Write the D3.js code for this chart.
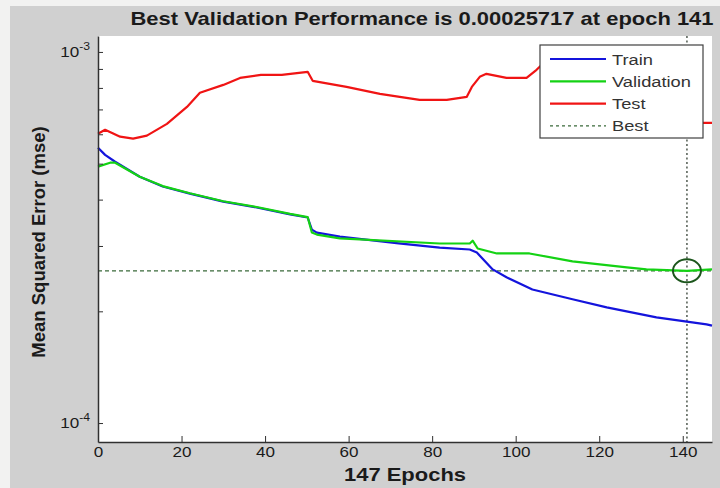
<!DOCTYPE html>
<html>
<head>
<meta charset="utf-8">
<script src="https://cdn.jsdelivr.net/npm/d3@7"></script>
<style>
  body { margin: 0; background: #f2f2f1; }
  svg { display: block; font-family: 'Liberation Sans', Arial, sans-serif; }
</style>
</head>
<body>
<div id="chart"></div>
<script>
'use strict';

// mse values in units of 1e-4
const trainEpoch = [0, 1.7, 4.1, 10, 15.5, 22, 30, 38, 46, 50.2, 51.2, 52.4, 57.9, 72, 81.8, 89, 90.7, 94.5, 97.8, 104, 113.6, 121.8, 133.7, 145.7, 147];
const trainMse   = [5.52, 5.28, 5.06, 4.61, 4.34, 4.15, 3.95, 3.81, 3.65, 3.58, 3.32, 3.26, 3.18, 3.05, 2.97, 2.935, 2.88, 2.594, 2.47, 2.29, 2.155, 2.05, 1.927, 1.845, 1.83];

const valEpoch = [0, 2.9, 4.1, 10, 15.5, 22, 30, 38, 46, 50.2, 51.2, 52.4, 57.9, 81.8, 89, 89.7, 90.9, 95.5, 103.3, 113.6, 126.6, 131.3, 141, 147];
const valMse   = [4.91, 5.03, 5.03, 4.61, 4.35, 4.16, 3.96, 3.82, 3.66, 3.59, 3.26, 3.22, 3.144, 3.047, 3.047, 3.10, 2.954, 2.864, 2.864, 2.726, 2.627, 2.594, 2.5717, 2.594];

const testEpoch = [0, 1.7, 5.3, 8.4, 11.7, 16.5, 21.3, 24.4, 30, 34, 39, 44, 50.2, 51.4, 59.5, 67.5, 77, 83.5, 88.3, 89.5, 91.4, 93, 97.8, 102.6, 105, 107, 115, 125, 135, 143, 144.7, 147];
const testMse   = [6.02, 6.17, 5.91, 5.84, 5.95, 6.40, 7.11, 7.76, 8.15, 8.51, 8.67, 8.67, 8.84, 8.36, 8.05, 7.71, 7.43, 7.43, 7.57, 8.05, 8.57, 8.73, 8.51, 8.51, 8.95, 9.4, 9.6, 9.3, 8.0, 6.8, 6.44, 6.44];

const bestEpoch = 141;
const bestMse = 2.5717e-4;
const xTicks = [0, 20, 40, 60, 80, 100, 120, 140];
const yMajor = [1e-4, 1e-3];
const yMinor = [2e-4, 3e-4, 4e-4, 5e-4, 6e-4, 7e-4, 8e-4, 9e-4];

const legendItems = [
  {name: 'Train', color: '#1414dc', dash: null},
  {name: 'Validation', color: '#14d214', dash: null},
  {name: 'Test', color: '#f01414', dash: null},
  {name: 'Best', color: '#3a6a3a', dash: '3,3'},
];

const W = 720, H = 488;
const stretch = 1.22; // the picture is a bit wider than tall
const plot = {left: 98, right: 712, top: 36, bottom: 442};

const svg = d3.select('#chart').append('svg')
  .attr('width', W).attr('height', H);

svg.append('rect').attr('width', W).attr('height', H).attr('fill', '#f2f2f1');
svg.append('rect').attr('x', 10).attr('y', 6)
  .attr('width', W - 10).attr('height', H - 6).attr('fill', '#d0d0d0');
svg.append('rect').attr('x', plot.left).attr('y', plot.top)
  .attr('width', plot.right - plot.left).attr('height', plot.bottom - plot.top)
  .attr('fill', 'white');

const x = d3.scaleLinear().domain([0, 147]).range([plot.left, plot.right]);
const y = d3.scaleLog().domain([8.89e-5, 1.104e-3]).range([plot.bottom, plot.top]);

function wideText(parent, tx, ty, str, size, weight, anchor) {
  return parent.append('text')
    .attr('transform', 'translate(' + tx + ',' + ty + ') scale(' + stretch + ',1)')
    .attr('font-size', size).attr('font-weight', weight || 'normal')
    .attr('text-anchor', anchor || 'middle')
    .attr('fill', '#1a1a1a')
    .text(str);
}

// best lines
svg.append('line')
  .attr('x1', plot.left).attr('x2', plot.right)
  .attr('y1', y(bestMse)).attr('y2', y(bestMse))
  .attr('stroke', '#3a6a3a').attr('stroke-width', 1.2)
  .attr('stroke-dasharray', '4,3');
svg.append('line')
  .attr('x1', x(bestEpoch)).attr('x2', x(bestEpoch))
  .attr('y1', plot.top).attr('y2', plot.bottom)
  .attr('stroke', '#505a50').attr('stroke-width', 1.5)
  .attr('stroke-dasharray', '2,2.5');

// series
const line = d3.line().x(d => x(d[0])).y(d => y(d[1] * 1e-4));
const series = [
  {ep: testEpoch, v: testMse, color: legendItems[2].color},
  {ep: trainEpoch, v: trainMse, color: legendItems[0].color},
  {ep: valEpoch, v: valMse, color: legendItems[1].color},
];
for (let s of series) {
  svg.append('path')
    .datum(s.ep.map((e, i) => [e, s.v[i]]))
    .attr('d', line)
    .attr('fill', 'none')
    .attr('stroke', s.color)
    .attr('stroke-width', 2.2)
    .attr('stroke-linejoin', 'round');
}

// best marker
svg.append('ellipse')
  .attr('cx', x(bestEpoch)).attr('cy', y(bestMse))
  .attr('rx', 14).attr('ry', 11.5)
  .attr('fill', 'none').attr('stroke', '#1c561c').attr('stroke-width', 2);

// x axis, ticks point inwards
const xAxis = svg.append('g')
  .attr('transform', 'translate(0,' + plot.bottom + ')')
  .call(d3.axisBottom(x).tickValues(xTicks).tickSizeInner(-6).tickSizeOuter(0).tickPadding(5));
xAxis.select('.domain').attr('stroke', '#303030').attr('stroke-width', 1.5);
xAxis.selectAll('.tick line').attr('stroke', '#303030');
xAxis.selectAll('.tick text')
  .attr('font-size', 14).attr('font-family', null).attr('fill', '#1a1a1a')
  .attr('transform', 'scale(' + stretch + ',1)');

// y axis with minor ticks
const yAxis = svg.append('g')
  .attr('transform', 'translate(' + plot.left + ',0)')
  .call(d3.axisLeft(y).tickValues(yMajor.concat(yMinor)).tickSizeInner(-5)
    .tickSizeOuter(0).tickFormat(() => ''));
yAxis.select('.domain').attr('stroke', '#303030').attr('stroke-width', 1.5);
yAxis.selectAll('.tick line').attr('stroke', '#303030');

for (let m of yMajor) {
  const t = svg.append('text')
    .attr('transform', 'translate(' + (plot.left - 8) + ',' + (y(m) + 5) + ') scale(' + stretch + ',1)')
    .attr('text-anchor', 'end').attr('fill', '#1a1a1a').attr('font-size', 14);
  t.append('tspan').text('10');
  t.append('tspan').attr('font-size', 10).attr('dy', -7).text(String(Math.round(Math.log10(m))));
}

// titles
wideText(svg, 422, 25,
  'Best Validation Performance is 0.00025717 at epoch 141', 18, 'bold');
wideText(svg, (plot.left + plot.right) / 2, 481, '147 Epochs', 18, 'bold');
svg.append('text')
  .attr('transform', 'translate(45,242) rotate(-90)')
  .attr('text-anchor', 'middle').attr('font-size', 18.5).attr('font-weight', 'bold')
  .attr('fill', '#1a1a1a')
  .text('Mean Squared Error (mse)');

// legend
const lg = svg.append('g');
lg.append('rect').attr('x', 540).attr('y', 45).attr('width', 163).attr('height', 93)
  .attr('fill', 'white').attr('stroke', '#404040').attr('stroke-width', 1.2);
legendItems.forEach((d, i) => {
  const ly = 59 + i * 22.3;
  lg.append('line').attr('x1', 550).attr('x2', 606).attr('y1', ly).attr('y2', ly)
    .attr('stroke', d.color).attr('stroke-width', d.dash ? 1.2 : 2.2)
    .attr('stroke-dasharray', d.dash);
  wideText(lg, 612, ly + 5.5, d.name, 15, 'normal', 'start').attr('fill', '#333');
});
</script>
</body>
</html>
